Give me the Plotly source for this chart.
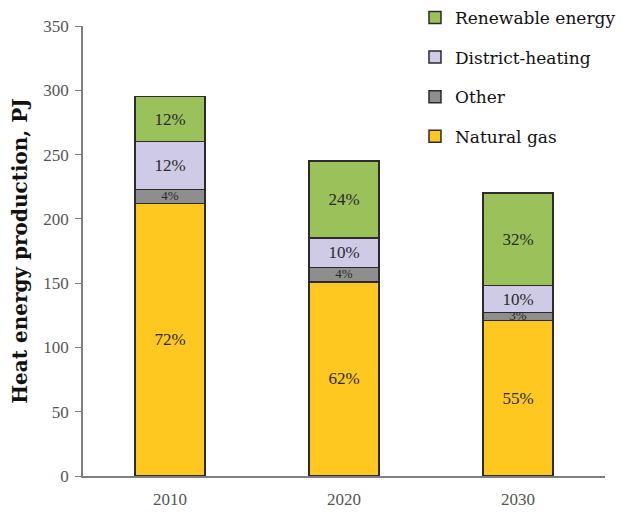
import plotly.graph_objects as go

years = ["2010", "2020", "2030"]
natural_gas = [212, 151, 121]
other = [11, 11, 6]
district_heating = [37, 23, 21]
renewable = [35, 60, 72]

gas_labels = ["72%", "62%", "55%"]
other_labels = ["4%", "4%", "3%"]
district_labels = ["12%", "10%", "10%"]
renewable_labels = ["12%", "24%", "32%"]

y_ticks = [0, 50, 100, 150, 200, 250, 300, 350]

series = [
    ("Natural gas", natural_gas, gas_labels, "#FFC820", 4),
    ("Other", other, other_labels, "#8E8E8E", 3),
    ("District-heating", district_heating, district_labels, "#CFCBE6", 2),
    ("Renewable energy", renewable, renewable_labels, "#9BC15A", 1),
]

serif = "Liberation Serif, Times New Roman, serif"
wide_serif = "DejaVu Serif, serif"

fig = go.Figure()
for name, vals, labels, color, rank in series:
    show_text = name != "Other"
    fig.add_trace(go.Bar(
        x=years, y=vals, name=name,
        text=labels if show_text else None,
        textposition="inside" if show_text else "none",
        insidetextanchor="middle", textangle=0,
        textfont=dict(family=serif, size=17, color="#2a2a2a"),
        marker=dict(color=color, line=dict(color="#2b2b2b", width=1.5)),
        legendgroup=name, legendrank=rank,
        hoverinfo="skip",
    ))

# labels for the thin "Other" segments, centred on each segment
other_mid = [g + o / 2 for g, o in zip(natural_gas, other)]
fig.add_trace(go.Scatter(
    x=years, y=other_mid, mode="text", text=other_labels,
    textfont=dict(family=serif, size=13, color="#2a2a2a"),
    showlegend=False, hoverinfo="skip", cliponaxis=False,
))

fig.update_layout(
    width=620, height=507,
    barmode="stack", bargap=0.6,
    plot_bgcolor="white", paper_bgcolor="white",
    margin=dict(l=75, r=23, t=18, b=39, autoexpand=False),
    font=dict(family=serif, color="#555555"),
    legend=dict(
        x=0.636, xanchor="left", y=1.058, yanchor="top",
        traceorder="grouped", tracegroupgap=14.5,
        font=dict(family=wide_serif, size=17, color="#111111"),
        bgcolor="rgba(0,0,0,0)",
    ),
    showlegend=True,
)
fig.update_yaxes(
    range=[0, 350], tickvals=y_ticks, showgrid=False, zeroline=False,
    showline=True, linecolor="#7f7f7f", linewidth=1.5,
    ticks="outside", ticklen=6, tickcolor="#7f7f7f",
    ticklabelstandoff=3,
    tickfont=dict(family=serif, size=17, color="#555555"),
    title=dict(text="<b>Heat energy production, PJ</b>",
               font=dict(family=wide_serif, size=20, color="#111111"), standoff=12),
)
fig.update_xaxes(
    showgrid=False, showline=True, linecolor="#7f7f7f", linewidth=1.5,
    ticks="", ticklabelstandoff=7,
    tickfont=dict(family=serif, size=17, color="#555555"),
)

fig.write_html("out.html")
